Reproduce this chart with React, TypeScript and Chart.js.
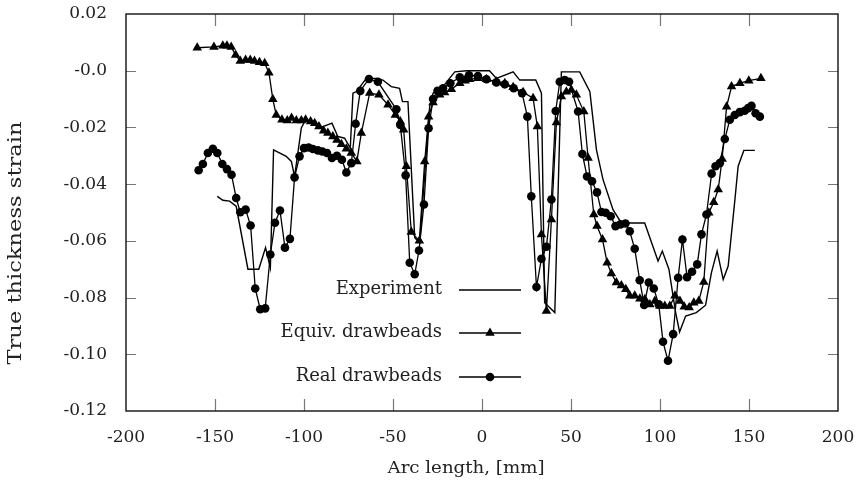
import React, { useEffect, useRef } from 'react';
import { Chart, registerables } from 'chart.js';
Chart.register(...registerables);

// ---- Data ----
const seriesNames = ['Experiment', 'Equiv. drawbeads', 'Real drawbeads'];
const xTitle = 'Arc length, [mm]';
const yTitle = 'True thickness strain';

const xTicks = [-200, -150, -100, -50, 0, 50, 100, 150, 200];
const xTickLabels = ['-200', '-150', '-100', '-50', '0', '50', '100', '150', '200'];
const yTicks = [-0.12, -0.1, -0.08, -0.06, -0.04, -0.02, 0, 0.02];
const yTickLabels = ['-0.12', '-0.10', '-0.08', '-0.06', '-0.04', '-0.02', '-0.0', '0.02'];

const expX = [-148.7, -145.6, -141.8, -138.1, -131.5, -125.4, -121.6, -118.9, -117.1, -110, -107.1, -105.3, -101.5, -99.1, -91.2, -84.3, -81, -77.2, -74, -72.5, -70.6, -65, -59.4, -55.7, -51, -46.3, -44.7, -41.6, -37.8, -35, -29.4, -27.5, -21.9, -15.3, -8.7, 4.2, 8.1, 17.5, 21.2, 30.2, 33.4, 35.2, 40.9, 44.6, 54.9, 60.6, 64.3, 68, 73.6, 78.3, 91.4, 98.9, 101.3, 105, 108.8, 111, 114.4, 120.4, 125.6, 128.9, 132.1, 135.5, 138.3, 142, 143.9, 147.1, 153.3];
const expY = [-0.0443, -0.0457, -0.046, -0.0478, -0.07, -0.07, -0.0624, -0.0695, -0.0279, -0.0302, -0.032, -0.0373, -0.0202, -0.0173, -0.0202, -0.0185, -0.0232, -0.0238, -0.0273, -0.0079, -0.0074, -0.0027, -0.0027, -0.0033, -0.0056, -0.0062, -0.0109, -0.0109, -0.0589, -0.0607, -0.0127, -0.0079, -0.0056, -0.0004, 0.0, 0.0, -0.0027, -0.0004, -0.0033, -0.0033, -0.0079, -0.0818, -0.0853, -0.0004, -0.0004, -0.0074, -0.0279, -0.0384, -0.049, -0.0537, -0.0537, -0.0671, -0.0636, -0.07, -0.0853, -0.0921, -0.0865, -0.0853, -0.0827, -0.0712, -0.0636, -0.0736, -0.0689, -0.046, -0.0337, -0.0281, -0.0281];

const eqX = [-160, -150.6, -145.6, -143.3, -140.9, -138.4, -135.8, -132.8, -130.2, -127.8, -125, -122.1, -119.7, -117.5, -115.6, -112.4, -109.4, -107, -104.3, -101.5, -99.1, -96.3, -94, -91.6, -89, -86.6, -83.8, -81.5, -79, -76.2, -73.4, -70.3, -67.8, -63.1, -57.9, -52.8, -48.7, -45.9, -44, -42.5, -39.7, -35.2, -32.2, -30, -27.5, -23.8, -21, -17.2, -12.5, -9.5, -6.9, -2.3, 2.5, 8.1, 12.8, 17.5, 23.1, 28.7, 31.1, 33.4, 36.2, 39, 41.8, 44.6, 47.4, 50.2, 53, 57.2, 59.6, 62.8, 64.6, 67.7, 70.3, 72.7, 75.5, 78.3, 80.8, 83, 85.8, 88.7, 91.5, 94.3, 97.1, 99.9, 102.7, 105.5, 108.4, 111.2, 113.6, 116.4, 119, 121.8, 124.6, 127.4, 130.2, 132.7, 134.9, 137.4, 140.2, 144.9, 149.9, 156.7];
const eqY = [0.0081, 0.0084, 0.0088, 0.0088, 0.0084, 0.0055, 0.0034, 0.0038, 0.0038, 0.0034, 0.003, 0.0026, -0.0007, -0.0101, -0.0156, -0.0173, -0.0176, -0.0167, -0.0176, -0.0176, -0.0173, -0.0179, -0.0185, -0.0197, -0.0212, -0.022, -0.0232, -0.0244, -0.0259, -0.0275, -0.029, -0.032, -0.022, -0.0079, -0.0085, -0.012, -0.0156, -0.0179, -0.0208, -0.0337, -0.0569, -0.06, -0.032, -0.0162, -0.0112, -0.0085, -0.0077, -0.0065, -0.0044, -0.0035, -0.003, -0.0027, -0.003, -0.0039, -0.0044, -0.0058, -0.0076, -0.0097, -0.0197, -0.0578, -0.0847, -0.0525, -0.0183, -0.0091, -0.0074, -0.0068, -0.0085, -0.0144, -0.0308, -0.0507, -0.0548, -0.0595, -0.0677, -0.0715, -0.0747, -0.0757, -0.0771, -0.0794, -0.0794, -0.0804, -0.0806, -0.0824, -0.0812, -0.083, -0.083, -0.083, -0.0794, -0.0812, -0.0832, -0.0835, -0.0818, -0.0812, -0.0745, -0.0501, -0.0464, -0.0419, -0.0311, -0.0127, -0.0056, -0.0044, -0.0035, -0.0027];

const realX = [-159.2, -156.8, -154, -151.2, -148.7, -145.9, -143.3, -140.7, -138.1, -135.8, -132.8, -130, -127.4, -124.6, -121.8, -118.9, -116.3, -113.5, -110.7, -107.9, -105.3, -102.5, -100, -97.4, -95, -92.2, -89.7, -87.1, -84.3, -81.5, -78.7, -76.2, -73.4, -71, -68.4, -63.5, -58.5, -48.1, -45.9, -42.9, -40.6, -37.8, -35.4, -32.6, -30, -27.5, -25, -21.9, -17.8, -12.5, -7.3, -2.3, 2.5, 8.1, 12.8, 17.8, 22.5, 25.5, 27.7, 30.6, 33.4, 36.2, 39, 41.4, 43.7, 46.5, 48.9, 54, 56.4, 59, 61.8, 64.6, 67.1, 69.5, 72.3, 75, 77.8, 80.6, 83, 85.8, 88.6, 91.1, 93.7, 96.5, 99.3, 101.7, 104.5, 107.4, 110.2, 112.6, 115.2, 118, 120.9, 123.3, 126.1, 129, 131.2, 133.6, 136.4, 139.2, 142, 144.8, 147.6, 149.5, 151.4, 153.7, 156.1];
const realY = [-0.0351, -0.0329, -0.029, -0.0275, -0.029, -0.0329, -0.0347, -0.0367, -0.0449, -0.0499, -0.049, -0.0546, -0.0768, -0.0841, -0.0838, -0.0648, -0.0536, -0.0493, -0.0624, -0.0593, -0.0376, -0.0302, -0.0273, -0.0271, -0.0276, -0.0281, -0.0285, -0.029, -0.0308, -0.03, -0.0314, -0.0359, -0.0326, -0.0187, -0.0071, -0.0029, -0.0039, -0.0136, -0.0191, -0.0369, -0.0677, -0.0718, -0.0634, -0.0472, -0.0203, -0.01, -0.0071, -0.0062, -0.0044, -0.0023, -0.0016, -0.0019, -0.003, -0.0041, -0.0048, -0.0062, -0.0079, -0.0162, -0.0443, -0.0763, -0.0663, -0.0621, -0.0454, -0.0142, -0.0039, -0.0033, -0.0039, -0.0144, -0.0294, -0.0373, -0.039, -0.0429, -0.0498, -0.0501, -0.0513, -0.0548, -0.0542, -0.0539, -0.0566, -0.0628, -0.0739, -0.0826, -0.0747, -0.0768, -0.0824, -0.0956, -0.1023, -0.0929, -0.073, -0.0595, -0.0728, -0.0709, -0.0683, -0.0577, -0.0507, -0.0363, -0.0337, -0.0326, -0.0241, -0.0173, -0.0156, -0.0146, -0.0141, -0.0132, -0.0124, -0.015, -0.0162];

const FONT = '"DejaVu Serif", serif';

const toPts = (xs: number[], ys: number[]) => xs.map((x, i) => ({ x, y: ys[i] }));

const decorPlugin = {
  id: 'decor',
  afterDraw(chart: any) {
    const { ctx, chartArea: a, scales } = chart;
    ctx.save();
    // inward tick marks on all four sides
    ctx.strokeStyle = '#777';
    ctx.lineWidth = 1.2;
    ctx.beginPath();
    xTicks.forEach((v) => {
      const px = Math.round(scales.x.getPixelForValue(v)) + 0.5;
      if (px <= a.left + 1 || px >= a.right - 1) return;
      ctx.moveTo(px, a.bottom); ctx.lineTo(px, a.bottom - 12);
      ctx.moveTo(px, a.top); ctx.lineTo(px, a.top + 12);
    });
    yTicks.forEach((v) => {
      const py = Math.round(scales.y.getPixelForValue(v)) + 0.5;
      if (py <= a.top + 1 || py >= a.bottom - 1) return;
      ctx.moveTo(a.left, py); ctx.lineTo(a.left + 10, py);
      ctx.moveTo(a.right, py); ctx.lineTo(a.right - 10, py);
    });
    ctx.stroke();
    // frame
    ctx.strokeStyle = '#111';
    ctx.lineWidth = 1.4;
    ctx.strokeRect(a.left, a.top, a.right - a.left, a.bottom - a.top);

    // legend
    const rows = [290, 333, 377];
    const styles: (string | null)[] = [null, 'triangle', 'circle'];
    ctx.font = `18px ${FONT}`;
    ctx.textAlign = 'right';
    ctx.textBaseline = 'middle';
    rows.forEach((y, i) => {
      ctx.fillStyle = '#222';
      ctx.fillText(seriesNames[i], 442, y - 1);
      ctx.strokeStyle = '#000';
      ctx.lineWidth = 1.4;
      ctx.beginPath();
      ctx.moveTo(459, y); ctx.lineTo(521, y);
      ctx.stroke();
      const st = styles[i];
      if (st) {
        ctx.fillStyle = '#000';
        ctx.beginPath();
        if (st === 'circle') {
          ctx.arc(490, y, 4.3, 0, Math.PI * 2);
        } else {
          const r = 5.5;
          ctx.moveTo(490, y - r);
          ctx.lineTo(490 + r * 0.866, y + r * 0.5);
          ctx.lineTo(490 - r * 0.866, y + r * 0.5);
          ctx.closePath();
        }
        ctx.fill();
      }
    });

    // axis titles
    ctx.fillStyle = '#222';
    ctx.textAlign = 'center';
    ctx.textBaseline = 'alphabetic';
    ctx.font = `17px ${FONT}`;
    let w = ctx.measureText(xTitle).width;
    ctx.save();
    ctx.translate(466, 473);
    ctx.scale(157 / w, 1);
    ctx.fillText(xTitle, 0, 0);
    ctx.restore();

    ctx.font = `19px ${FONT}`;
    w = ctx.measureText(yTitle).width;
    ctx.save();
    ctx.translate(16, 243);
    ctx.rotate(-Math.PI / 2);
    ctx.scale(243 / w, 1);
    ctx.textBaseline = 'middle';
    ctx.fillText(yTitle, 0, 0);
    ctx.restore();

    ctx.restore();
  },
};

export default function App() {
  const ref = useRef<HTMLCanvasElement | null>(null);
  useEffect(() => {
    if (!ref.current) return;
    const chart = new Chart(ref.current, {
      type: 'line',
      data: {
        datasets: [
          {
            label: seriesNames[0],
            data: toPts(expX, expY),
            borderColor: '#000',
            borderWidth: 1.4,
            pointRadius: 0,
            tension: 0,
          },
          {
            label: seriesNames[1],
            data: toPts(eqX, eqY),
            borderColor: '#000',
            borderWidth: 1.3,
            pointStyle: 'triangle',
            pointRadius: 5.5,
            pointBackgroundColor: '#000',
            pointBorderColor: '#000',
            pointBorderWidth: 0,
            tension: 0,
          },
          {
            label: seriesNames[2],
            data: toPts(realX, realY),
            borderColor: '#000',
            borderWidth: 1.3,
            pointStyle: 'circle',
            pointRadius: 4.3,
            pointBackgroundColor: '#000',
            pointBorderColor: '#000',
            pointBorderWidth: 0,
            tension: 0,
          },
        ],
      },
      options: {
        animation: false,
        responsive: true,
        maintainAspectRatio: false,
        layout: { padding: { left: 0, right: 19, top: 14, bottom: 0 } },
        plugins: { legend: { display: false }, tooltip: { enabled: false } },
        events: [],
        scales: {
          x: {
            type: 'linear',
            min: -200,
            max: 200,
            afterBuildTicks: (s: any) => { s.ticks = xTicks.map((v) => ({ value: v })); },
            afterFit: (s: any) => {
              s.height = 77;
              s.paddingLeft = 0; s.paddingRight = 0; s.paddingTop = 0; s.paddingBottom = 0;
            },
            ticks: {
              callback: (_v: any, i: number) => xTickLabels[i],
              font: { family: FONT, size: 17 },
              color: '#222',
              padding: 16,
              maxRotation: 0,
              autoSkip: false,
            },
            grid: { display: false, drawTicks: false },
            border: { display: false },
          },
          y: {
            type: 'linear',
            min: -0.12,
            max: 0.02,
            afterBuildTicks: (s: any) => { s.ticks = yTicks.map((v) => ({ value: v })); },
            afterFit: (s: any) => {
              s.width = 126;
              s.paddingLeft = 0; s.paddingRight = 0; s.paddingTop = 0; s.paddingBottom = 0;
            },
            ticks: {
              callback: (_v: any, i: number) => yTickLabels[i],
              font: { family: FONT, size: 17 },
              color: '#222',
              padding: 19,
              autoSkip: false,
            },
            grid: { display: false, drawTicks: false },
            border: { display: false },
          },
        },
      },
      plugins: [decorPlugin],
    } as any);
    return () => chart.destroy();
  }, []);
  return (
    <div style={{ position: 'absolute', left: 0, top: 0, width: 857, height: 488, background: '#fff' }}>
      <canvas ref={ref} />
    </div>
  );
}
